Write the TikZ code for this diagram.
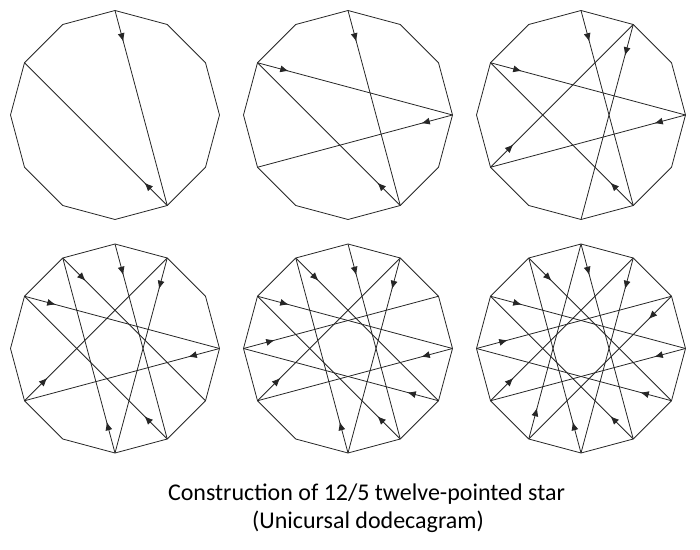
\documentclass[tikz,border=0pt]{standalone}
\usepackage{fontspec}
\setmainfont{Carlito}
\usetikzlibrary{arrows.meta, decorations.markings}

\begin{document}
\begin{tikzpicture}[x = 1pt, y = 1pt,
        rim/.style = {draw = black!85, line width = 0.8pt, line join = round},
        chord/.style = {draw = black!85, line width = 0.8pt, postaction = {decorate},
            decoration = {markings, mark = at position 0.16 with {\arrow{Latex[length = 8.5pt, width = 7pt]}}}},
        caption/.style = {font = \fontsize{24}{28}\selectfont, anchor = base, inner sep = 0pt}]
    \useasboundingbox (0,0) rectangle (700,549);
    \foreach \n/\cx/\cy in {1/115/434, 2/348/434, 3/581/434, 4/115/200.5, 5/348/200.5, 6/581/200.5} {
        % corners of the dodecagon, 0 at the top, going clockwise
        \foreach \k in {0,...,11}
            \coordinate (p\n-\k) at ([shift = {(\cx,\cy)}] 90-30*\k:104.5);
        \draw[rim] (p\n-0) \foreach \k in {1,...,11} {-- (p\n-\k)} -- cycle;
        % first 2n steps of the 12/5 walk
        \pgfmathtruncatemacro\laststep{2*\n-1}
        \foreach \s in {0,...,\laststep} {
            \pgfmathtruncatemacro\va{mod(5*\s,12)}
            \pgfmathtruncatemacro\vb{mod(5*(\s+1),12)}
            \draw[chord] (p\n-\va) -- (p\n-\vb);
        }
    }
    \node[caption] (title) at (366.5,49) {Construction of 12/5 twelve-pointed star};
    \node[caption] (subtitle) at (368,21) {(Unicursal dodecagram)};
\end{tikzpicture}
\end{document}
